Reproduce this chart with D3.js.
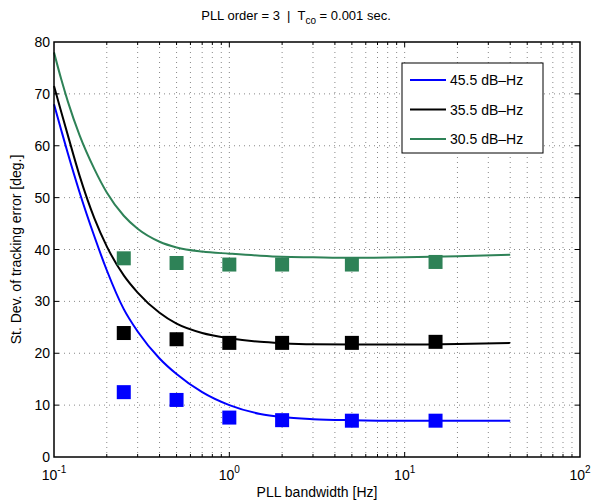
<!DOCTYPE html>
<html>
<head>
<meta charset="utf-8">
<script src="https://cdn.jsdelivr.net/npm/d3@7"></script>
<style>
body { margin: 0; background: #fff; }
text { font-family: "Liberation Sans", Arial, sans-serif; fill: #000; white-space: pre; }
</style>
</head>
<body>
<svg id="chart" width="592" height="503"></svg>
<script>
// curve samples (Hz) and values
var curveFreq = [0.1, 0.11, 0.12, 0.14, 0.17, 0.2, 0.25, 0.3, 0.4, 0.5, 0.7, 1, 1.5, 2, 3, 5, 10, 20, 40];
var curve455 = [68, 63, 58.5, 51, 42.5, 36, 28.5, 24.2, 19, 16, 12.5, 10, 8.3, 7.7, 7.3, 7.1, 7.0, 7.0, 7.0];
var curve355 = [71.5, 66.5, 62, 54.2, 46, 40.6, 35, 31.7, 27.8, 25.7, 23.9, 22.9, 22.2, 21.95, 21.75, 21.7, 21.7, 21.8, 22];
var curve305 = [78, 72.8, 68.5, 62, 55.5, 51, 46.5, 44, 41.5, 40.4, 39.6, 39.2, 38.8, 38.6, 38.5, 38.4, 38.5, 38.7, 39];

// measured points
var markFreq = [0.25, 0.5, 1, 2, 5, 15];
var mark455 = [12.5, 11.0, 7.6, 7.1, 7.0, 7.0];
var mark355 = [23.9, 22.7, 22.0, 22.0, 22.0, 22.2];
var mark305 = [38.3, 37.4, 37.1, 37.1, 37.1, 37.6];

var seriesNames = ["45.5 dB\u2013Hz", "35.5 dB\u2013Hz", "30.5 dB\u2013Hz"];
var seriesColors = ["#0000ff", "#000000", "#2e8257"];
var yTicks = [0, 10, 20, 30, 40, 50, 60, 70, 80];
var xDecades = [0.1, 1, 10, 100];
var xDecadeLabels = ["-1", "0", "1", "2"];

var svg = d3.select("#chart");
var pLeft = 54, pRight = 580, pTop = 42, pBottom = 457;

var x = d3.scaleLog().domain([0.1, 100]).range([pLeft, pRight]);
var y = d3.scaleLinear().domain([0, 80]).range([pBottom, pTop]);

// minor log ticks
var minor = [];
xDecades.slice(0, 3).forEach(function(d) {
    for (var k = 2; k <= 9; k++) minor.push(d * k);
});

var grid = svg.append("g");
// vertical grid
grid.selectAll(".vg").data(minor.concat([1, 10])).enter().append("line")
    .attr("x1", function(d) { return x(d); }).attr("x2", function(d) { return x(d); })
    .attr("y1", pTop).attr("y2", pBottom)
    .attr("stroke", "#555").attr("stroke-width", 0.7).attr("stroke-dasharray", "1,4");
// horizontal grid
grid.selectAll(".hg").data(yTicks.slice(1, 8)).enter().append("line")
    .attr("x1", pLeft).attr("x2", pRight)
    .attr("y1", function(d) { return y(d); }).attr("y2", function(d) { return y(d); })
    .attr("stroke", "#555").attr("stroke-width", 0.7).attr("stroke-dasharray", "1,4");

// curves
var curves = [curve455, curve355, curve305];
var line = d3.line()
    .x(function(d) { return x(d[0]); })
    .y(function(d) { return y(d[1]); })
    .curve(d3.curveMonotoneX);

var plot = svg.append("g");
curves.forEach(function(c, i) {
    plot.append("path")
        .datum(curveFreq.map(function(f, j) { return [f, c[j]]; }))
        .attr("d", line)
        .attr("fill", "none")
        .attr("stroke", seriesColors[i])
        .attr("stroke-width", 2);
});

// markers
var marks = [mark455, mark355, mark305];
var ms = 14;
marks.forEach(function(m, i) {
    plot.selectAll(".m" + i).data(markFreq).enter().append("rect")
        .attr("x", function(d) { return x(d) - ms / 2; })
        .attr("y", function(d, j) { return y(m[j]) - ms / 2; })
        .attr("width", ms).attr("height", ms)
        .attr("fill", seriesColors[i]);
});

// axes box and ticks
var axes = svg.append("g");
axes.append("rect")
    .attr("x", pLeft).attr("y", pTop)
    .attr("width", pRight - pLeft).attr("height", pBottom - pTop)
    .attr("fill", "none").attr("stroke", "#000").attr("stroke-width", 1.5);

var tickLen = 5, minorLen = 3;
[pBottom, pTop].forEach(function(yy, s) {
    var dir = s === 0 ? -1 : 1;
    axes.selectAll(".xt" + s).data([1, 10]).enter().append("line")
        .attr("x1", function(d) { return x(d); }).attr("x2", function(d) { return x(d); })
        .attr("y1", yy).attr("y2", yy + dir * tickLen)
        .attr("stroke", "#000").attr("stroke-width", 1);
    axes.selectAll(".xm" + s).data(minor).enter().append("line")
        .attr("x1", function(d) { return x(d); }).attr("x2", function(d) { return x(d); })
        .attr("y1", yy).attr("y2", yy + dir * minorLen)
        .attr("stroke", "#000").attr("stroke-width", 1);
});
[pLeft, pRight].forEach(function(xx, s) {
    var dir = s === 0 ? 1 : -1;
    axes.selectAll(".yt" + s).data(yTicks.slice(1, 8)).enter().append("line")
        .attr("x1", xx).attr("x2", xx + dir * tickLen)
        .attr("y1", function(d) { return y(d); }).attr("y2", function(d) { return y(d); })
        .attr("stroke", "#000").attr("stroke-width", 1);
});

// y tick labels
axes.selectAll(".yl").data(yTicks).enter().append("text")
    .attr("x", pLeft - 4)
    .attr("y", function(d) { return y(d) + 5; })
    .attr("text-anchor", "end")
    .attr("font-size", 14)
    .text(function(d) { return d; });

// x tick labels with exponent
xDecades.forEach(function(d, i) {
    var t = axes.append("text")
        .attr("x", x(d))
        .attr("y", pBottom + 23)
        .attr("text-anchor", "middle")
        .attr("font-size", 14);
    t.append("tspan").text("10");
    t.append("tspan").attr("dy", -7).attr("font-size", 10).text(xDecadeLabels[i]);
});

// axis titles
svg.append("text")
    .attr("x", 317).attr("y", 497)
    .attr("text-anchor", "middle").attr("font-size", 14)
    .text("PLL bandwidth [Hz]");
svg.append("text")
    .attr("transform", "translate(21," + ((pTop + pBottom) / 2) + ") rotate(-90)")
    .attr("text-anchor", "middle").attr("font-size", 14)
    .text("St. Dev. of tracking error [deg.]");

// title
var title = svg.append("text")
    .attr("x", 296).attr("y", 20)
    .attr("text-anchor", "middle").attr("font-size", 13);
title.append("tspan").text("PLL order = 3  |  T");
title.append("tspan").attr("dy", 4).attr("font-size", 10).text("co");
title.append("tspan").attr("dy", -4).text(" = 0.001 sec.");

// legend
var lg = svg.append("g").attr("transform", "translate(402,63)");
lg.append("rect").attr("width", 141).attr("height", 90)
    .attr("fill", "#fff").attr("stroke", "#000").attr("stroke-width", 1);
seriesNames.forEach(function(n, i) {
    var yy = 17 + i * 29.5;
    lg.append("line").attr("x1", 8).attr("x2", 44).attr("y1", yy).attr("y2", yy)
        .attr("stroke", seriesColors[i]).attr("stroke-width", 2);
    lg.append("text").attr("x", 48).attr("y", yy + 5).attr("font-size", 14).text(n);
});
</script>
</body>
</html>
